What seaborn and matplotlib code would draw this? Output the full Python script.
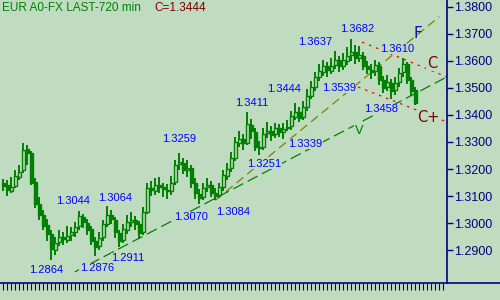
import matplotlib
matplotlib.use("Agg")
import matplotlib.pyplot as plt
import seaborn as sns
import pandas as pd
from matplotlib.lines import Line2D

# ---------------- data ----------------
opens = [1.3150, 1.3140, 1.3120, 1.3138, 1.3172, 1.3195, 1.3275, 1.3258, 1.3152, 1.3072,
         1.3028, 1.2992, 1.2958, 1.2900, 1.2928, 1.2950, 1.2938, 1.2955, 1.2965, 1.2988,
         1.3022, 1.3000, 1.2978, 1.2932, 1.2915, 1.2948, 1.2998, 1.3028, 1.3012, 1.2962,
         1.2938, 1.2975, 1.3005, 1.3012, 1.2995, 1.2965, 1.3042, 1.3130, 1.3120, 1.3142,
         1.3132, 1.3122, 1.3120, 1.3152, 1.3218, 1.3222, 1.3195, 1.3202, 1.3148, 1.3108,
         1.3095, 1.3132, 1.3140, 1.3110, 1.3102, 1.3135, 1.3175, 1.3202, 1.3242, 1.3298,
         1.3312, 1.3298, 1.3362, 1.3338, 1.3280, 1.3280, 1.3332, 1.3340, 1.3328, 1.3350,
         1.3336, 1.3350, 1.3358, 1.3392, 1.3410, 1.3392, 1.3428, 1.3472, 1.3502, 1.3542,
         1.3560, 1.3582, 1.3562, 1.3585, 1.3602, 1.3582, 1.3600, 1.3622, 1.3632, 1.3612,
         1.3620, 1.3582, 1.3568, 1.3562, 1.3582, 1.3528, 1.3502, 1.3520, 1.3492, 1.3522,
         1.3558, 1.3588, 1.3528, 1.3492]
highs = [1.3162, 1.3158, 1.3170, 1.3195, 1.3215, 1.3296, 1.3288, 1.3265, 1.3165, 1.3095,
         1.3050, 1.3015, 1.2975, 1.2948, 1.2975, 1.2968, 1.2990, 1.2985, 1.3005, 1.3044,
         1.3035, 1.3015, 1.2990, 1.2950, 1.2965, 1.3010, 1.3064, 1.3050, 1.3022, 1.2975,
         1.2995, 1.3030, 1.3040, 1.3025, 1.3008, 1.3058, 1.3150, 1.3155, 1.3165, 1.3172,
         1.3150, 1.3145, 1.3175, 1.3235, 1.3259, 1.3240, 1.3232, 1.3215, 1.3165, 1.3125,
         1.3150, 1.3165, 1.3155, 1.3130, 1.3150, 1.3195, 1.3222, 1.3262, 1.3320, 1.3340,
         1.3330, 1.3411, 1.3385, 1.3350, 1.3305, 1.3350, 1.3375, 1.3360, 1.3372, 1.3368,
         1.3370, 1.3380, 1.3415, 1.3444, 1.3428, 1.3450, 1.3495, 1.3525, 1.3560, 1.3590,
         1.3605, 1.3598, 1.3610, 1.3637, 1.3620, 1.3630, 1.3650, 1.3682, 1.3660, 1.3655,
         1.3635, 1.3600, 1.3590, 1.3605, 1.3595, 1.3545, 1.3548, 1.3535, 1.3540, 1.3575,
         1.3610, 1.3598, 1.3540, 1.3505]
lows = [1.3118, 1.3100, 1.3110, 1.3128, 1.3160, 1.3185, 1.3215, 1.3140, 1.3055, 1.3010,
        1.2975, 1.2935, 1.2864, 1.2880, 1.2915, 1.2920, 1.2925, 1.2935, 1.2950, 1.2975,
        1.2980, 1.2955, 1.2920, 1.2876, 1.2900, 1.2935, 1.2985, 1.2995, 1.2945, 1.2911,
        1.2925, 1.2960, 1.2985, 1.2975, 1.2940, 1.2955, 1.3035, 1.3100, 1.3105, 1.3110,
        1.3098, 1.3090, 1.3105, 1.3140, 1.3195, 1.3180, 1.3170, 1.3130, 1.3090, 1.3070,
        1.3085, 1.3115, 1.3095, 1.3084, 1.3092, 1.3120, 1.3160, 1.3190, 1.3230, 1.3280,
        1.3270, 1.3290, 1.3310, 1.3265, 1.3251, 1.3270, 1.3315, 1.3305, 1.3315, 1.3320,
        1.3310, 1.3339, 1.3345, 1.3380, 1.3375, 1.3380, 1.3415, 1.3460, 1.3490, 1.3525,
        1.3545, 1.3539, 1.3550, 1.3570, 1.3560, 1.3565, 1.3585, 1.3600, 1.3590, 1.3595,
        1.3565, 1.3550, 1.3535, 1.3545, 1.3510, 1.3480, 1.3490, 1.3458, 1.3475, 1.3505,
        1.3540, 1.3515, 1.3470, 1.3438]
closes = [1.3138, 1.3122, 1.3135, 1.3175, 1.3190, 1.3272, 1.3260, 1.3150, 1.3070, 1.3030,
          1.2990, 1.2960, 1.2905, 1.2925, 1.2948, 1.2940, 1.2952, 1.2968, 1.2985, 1.3025,
          1.3002, 1.2975, 1.2935, 1.2912, 1.2945, 1.2995, 1.3030, 1.3015, 1.2965, 1.2935,
          1.2978, 1.3002, 1.3010, 1.2998, 1.2962, 1.3040, 1.3128, 1.3122, 1.3140, 1.3135,
          1.3125, 1.3118, 1.3150, 1.3215, 1.3225, 1.3198, 1.3205, 1.3150, 1.3110, 1.3092,
          1.3130, 1.3142, 1.3112, 1.3100, 1.3132, 1.3178, 1.3200, 1.3240, 1.3300, 1.3310,
          1.3295, 1.3365, 1.3340, 1.3282, 1.3278, 1.3330, 1.3342, 1.3325, 1.3352, 1.3338,
          1.3348, 1.3355, 1.3395, 1.3412, 1.3390, 1.3430, 1.3470, 1.3505, 1.3540, 1.3562,
          1.3580, 1.3565, 1.3582, 1.3605, 1.3580, 1.3602, 1.3620, 1.3635, 1.3610, 1.3622,
          1.3580, 1.3570, 1.3560, 1.3585, 1.3530, 1.3500, 1.3522, 1.3490, 1.3520, 1.3555,
          1.3590, 1.3530, 1.3490, 1.3444]

# pivot labels (text) and their pixel anchor positions
pivot_labels = ["1.2864", "1.2876", "1.2911", "1.3044", "1.3064", "1.3070", "1.3084",
                "1.3259", "1.3251", "1.3339", "1.3411", "1.3444", "1.3637", "1.3682",
                "1.3610", "1.3539", "1.3458"]
pivot_px = [(46, 270), (97, 268), (128, 258), (73, 201), (115, 198), (191, 217), (233, 212),
            (179, 139), (264, 164), (305, 144), (252, 103), (284, 89), (315, 42), (357, 29),
            (397, 49), (339, 88), (381, 109)]

# trend lines: (candle index, price) endpoints
line_F = ([53, 109], [1.3084, 1.3764])
line_V = ([17.9, 110.9], [1.2819, 1.3541])
line_C_upper = ([89.7, 110.9], [1.3670, 1.3541])
line_C_lower = ([88.7, 110.9], [1.3504, 1.3374])

yticks = [1.29, 1.30, 1.31, 1.32, 1.33, 1.34, 1.35, 1.36, 1.37, 1.38]
title_left = "EUR A0-FX LAST-720 min"
title_right = "C=1.3444"

# ---------------- style ----------------
BG = "#C0DCC0"
GREEN = "#008000"
NAVY = "#000080"
sns.set_theme(style="white", rc={"axes.facecolor": BG, "figure.facecolor": BG})
plt.rcParams["font.family"] = ["Liberation Sans", "DejaVu Sans"]

fig = plt.figure(figsize=(5, 3), dpi=100)
ax = fig.add_axes([0, 17 / 300, 447 / 500, 283 / 300])
ax.set_facecolor(BG)

df = pd.DataFrame({"x": range(len(closes)), "open": opens, "high": highs,
                   "low": lows, "close": closes})

XMIN, XMAX = -0.825, 110.925
YMIN, YMAX = 1.27778, 1.38259
ax.set_xlim(XMIN, XMAX)
ax.set_ylim(YMIN, YMAX)


def px2x(px):
    return XMIN + px / 447 * (XMAX - XMIN)


def py2y(py):
    return YMAX - py / 283 * (YMAX - YMIN)


# trend lines
for (xs, ys), col, ls in [(line_F, "#808000", (0, (7, 4))),
                          (line_V, GREEN, (0, (9, 4))),
                          (line_C_upper, "#FF0000", (0, (2, 4))),
                          (line_C_lower, "#FF0000", (0, (2, 4)))]:
    sns.lineplot(x=xs, y=ys, ax=ax, color=col, lw=0.9, linestyle=ls, legend=False)
for l in ax.lines:
    l.set_zorder(1)

# candles
ax.vlines(df["x"], df["low"], df["high"], color=GREEN, lw=1.4, zorder=3)
up = df[df["close"] >= df["open"]]
dn = df[df["close"] < df["open"]]
ax.bar(up["x"], up["close"] - up["open"], bottom=up["open"], width=0.66,
       facecolor=BG, edgecolor=GREEN, linewidth=1.0, zorder=4)
ax.bar(dn["x"], dn["open"] - dn["close"], bottom=dn["close"], width=0.66,
       facecolor=GREEN, edgecolor=GREEN, linewidth=1.0, zorder=4)

# pivot labels
for txt, (px, py) in zip(pivot_labels, pivot_px):
    ax.text(px2x(px), py2y(py), txt, color="#0000FF", fontsize=8,
            ha="center", va="center", zorder=6,
            bbox=dict(facecolor=BG, edgecolor="none", pad=0.3))

# letters
ax.text(px2x(418), py2y(34), "F", color="#1010A0", fontsize=11, ha="center", va="center",
        family="DejaVu Sans", zorder=6)
ax.text(px2x(432), py2y(63), "C", color="#800000", fontsize=10.5, ha="center", va="center",
        family="DejaVu Sans", zorder=6, bbox=dict(facecolor=BG, edgecolor="none", pad=0.5))
ax.text(px2x(428), py2y(118), "C+", color="#800000", fontsize=10.5, ha="center", va="center",
        family="DejaVu Sans", zorder=6, bbox=dict(facecolor=BG, edgecolor="none", pad=0.5))
ax.text(px2x(359), py2y(130), "V", color=GREEN, fontsize=9, ha="center", va="center",
        family="DejaVu Sans", zorder=6, bbox=dict(facecolor=BG, edgecolor="none", pad=0.8))

# title texts
fig.text(2 / 500, 1 - 8 / 300, title_left, color=GREEN, fontsize=8.5, ha="left", va="center")
fig.text(154 / 500, 1 - 8 / 300, title_right, color="#800000", fontsize=8.5, ha="left", va="center")

# axes styling
for s in ["left", "top"]:
    ax.spines[s].set_visible(False)
for s in ["right", "bottom"]:
    ax.spines[s].set_visible(True)
    ax.spines[s].set_color(NAVY)
    ax.spines[s].set_linewidth(1.2)
ax.yaxis.tick_right()
ax.set_yticks(yticks)
ax.set_yticklabels([f"{v:.4f}" for v in yticks])
ax.tick_params(axis="y", direction="out", length=4, width=1, color=NAVY,
               labelcolor=NAVY, labelsize=9, pad=1, right=True, left=False)
ax.set_xticks(range(0, 111))
ax.tick_params(axis="x", direction="out", length=5, width=0.8, color=NAVY,
               labelbottom=False, bottom=True)
ax.grid(False)

# extend the bottom axis line to the right edge
fig.add_artist(Line2D([447 / 500, 1.0], [17 / 300, 17 / 300], color=NAVY, lw=1.2,
                      transform=fig.transFigure))

fig.savefig("out.png", dpi=100, facecolor=BG)
